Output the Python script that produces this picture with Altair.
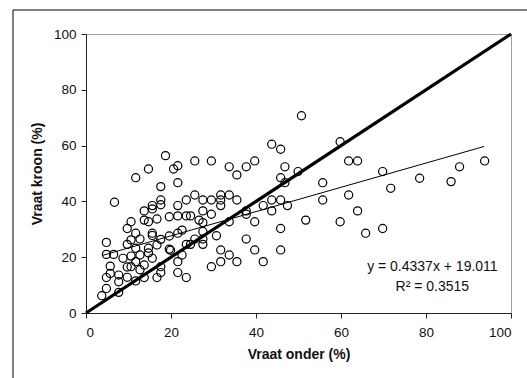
import altair as alt
import pandas as pd

# ---- data ----
vraat_onder = [3.7, 4.8, 4.8, 4.8, 4.8, 5.7, 6.7, 6.5, 5.7, 7.7, 7.7, 7.7, 8.7, 9.7, 9.7, 9.7, 9.7,
               10.6, 10.6, 10.6, 10.6, 11.7, 11.7, 11.7, 11.7, 11.7, 12.7, 12.7, 12.7, 13.7, 13.7, 13.7,
               13.7, 14.7, 14.7, 14.7, 14.7, 15.6, 15.6, 15.6, 15.6, 15.6, 16.7, 16.7, 16.7, 17.6, 17.6,
               17.6, 17.6, 17.6, 17.6, 18.7, 19.6, 19.6, 19.6, 19.9, 20.6, 21.6, 21.6, 21.6, 21.6, 21.6,
               21.6, 21.6, 22.6, 22.6, 23.6, 23.6, 23.6, 23.6, 24.6, 24.6, 25.6, 25.6, 25.6, 26.6, 27.5,
               27.5, 27.5, 27.5, 27.5, 27.5, 29.5, 29.5, 29.5, 29.5, 30.7, 31.7, 31.7, 31.7, 31.7, 31.7,
               33.7, 33.7, 33.7, 33.7, 35.5, 35.5, 35.5, 37.7, 37.7, 37.7, 37.7, 39.7, 39.7, 39.7, 41.7,
               41.7, 43.7, 43.7, 43.7, 45.8, 45.8, 45.8, 45.8, 45.8, 46.8, 46.8, 47.4, 50.7, 49.9, 51.7,
               55.7, 55.7, 59.8, 59.8, 61.8, 61.8, 63.9, 63.9, 65.8, 69.8, 69.8, 71.7, 78.5, 85.9, 87.9,
               93.8]
vraat_kroon = [6.2, 25.3, 21.0, 12.7, 8.8, 16.8, 39.7, 21.0, 14.2, 7.4, 11.2, 13.6, 19.6, 30.3, 24.6,
               12.8, 16.5, 32.7, 26.2, 20.4, 16.6, 48.5, 28.6, 23.2, 18.4, 11.5, 26.5, 20.8, 15.5, 36.6,
               33.3, 17.2, 12.7, 51.6, 32.7, 23.2, 21.5, 38.5, 37.3, 28.6, 27.8, 19.6, 33.7, 24.4, 12.7,
               45.3, 40.5, 38.8, 26.4, 16.6, 14.5, 56.4, 34.5, 27.6, 22.9, 22.5, 51.6, 52.8, 46.7, 38.5,
               34.8, 28.6, 18.4, 14.5, 29.7, 20.8, 40.5, 34.8, 24.6, 12.7, 34.8, 24.6, 54.5, 42.3, 26.5,
               33.3, 40.5, 36.6, 32.4, 29.2, 26.5, 24.6, 54.5, 40.5, 35.4, 16.6, 27.7, 42.3, 40.5, 38.5,
               22.6, 18.4, 52.4, 42.3, 32.7, 20.8, 49.5, 40.5, 18.4, 52.4, 36.6, 35.4, 26.5, 54.5, 32.7,
               22.6, 38.5, 18.4, 60.5, 40.5, 36.6, 58.7, 48.5, 40.5, 30.3, 22.6, 52.4, 46.7, 38.5, 70.7,
               50.7, 33.3, 46.7, 40.5, 61.4, 32.7, 54.5, 42.3, 54.5, 36.6, 28.6, 50.7, 30.3, 44.7, 48.3,
               47.1, 52.4, 54.5]

diag_x = [0, 100]
diag_y = [0, 100]
fit_x = [4, 93.7]
fit_y = [20.7, 59.7]

ann_text = ["y = 0.4337x + 19.011", "R\u00b2 = 0.3515"]
ann_x = [81.5, 81.5]
ann_y = [16.6, 9.4]

tick_values = [0, 20, 40, 60, 80, 100]

pts = pd.DataFrame({"x": vraat_onder, "y": vraat_kroon})
diag = pd.DataFrame({"x": diag_x, "y": diag_y})
fit = pd.DataFrame({"x": fit_x, "y": fit_y})
ann = pd.DataFrame({"x": ann_x, "y": ann_y, "t": ann_text})

FONT = "Liberation Sans"
xs = alt.Scale(domain=[0, 100], nice=False, zero=False)
ys = alt.Scale(domain=[0, 100], nice=False, zero=False)

x_axis = alt.Axis(values=tick_values, title="Vraat onder (%)", grid=False,
                  domainColor="#222", tickColor="#222", tickSize=5,
                  labelFont=FONT, labelFontSize=13.5, labelColor="#111", labelPadding=7,
                  titleFont=FONT, titleFontSize=14, titleFontWeight="bold", titleColor="#111",
                  titleY=41, titleBaseline="middle")
y_axis = alt.Axis(values=tick_values, title="Vraat kroon (%)", grid=False,
                  domainColor="#222", tickColor="#222", tickSize=5,
                  labelFont=FONT, labelFontSize=13.5, labelColor="#111", labelPadding=5,
                  titleFont=FONT, titleFontSize=14, titleFontWeight="bold", titleColor="#111",
                  titleX=-49, titleY=139.5, titleAlign="center", titleBaseline="middle")

X = alt.X("x:Q", scale=xs, axis=x_axis)
Y = alt.Y("y:Q", scale=ys, axis=y_axis)

frame = alt.Chart(alt.Data(values=[{"a": 1}])).mark_rect(
    fillOpacity=0, stroke="black", strokeWidth=1
).encode(x=alt.value(-73), x2=alt.value(560), y=alt.value(-24), y2=alt.value(420))

points = alt.Chart(pts).mark_point(
    shape="circle", filled=False, size=66, stroke="black", strokeWidth=1.2, opacity=1
).encode(x=X, y=Y)

diag_line = alt.Chart(diag).mark_line(color="black", strokeWidth=3.2).encode(x=X, y=Y)
fit_line = alt.Chart(fit).mark_line(color="black", strokeWidth=1).encode(x=X, y=Y)

labels = alt.Chart(ann).mark_text(
    font=FONT, fontSize=14, color="#111", align="center", baseline="middle"
).encode(x=X, y=Y, text="t:N")

chart = alt.layer(frame, diag_line, fit_line, points, labels).properties(
    width=425, height=279,
    padding={"left": 86, "top": 34, "right": 16, "bottom": 65},
    autosize=alt.AutoSizeParams(type="none"),
).configure_view(stroke="#a0a0a0", strokeWidth=1)

chart.save("out.html", embed_options={"renderer": "svg", "actions": False})
